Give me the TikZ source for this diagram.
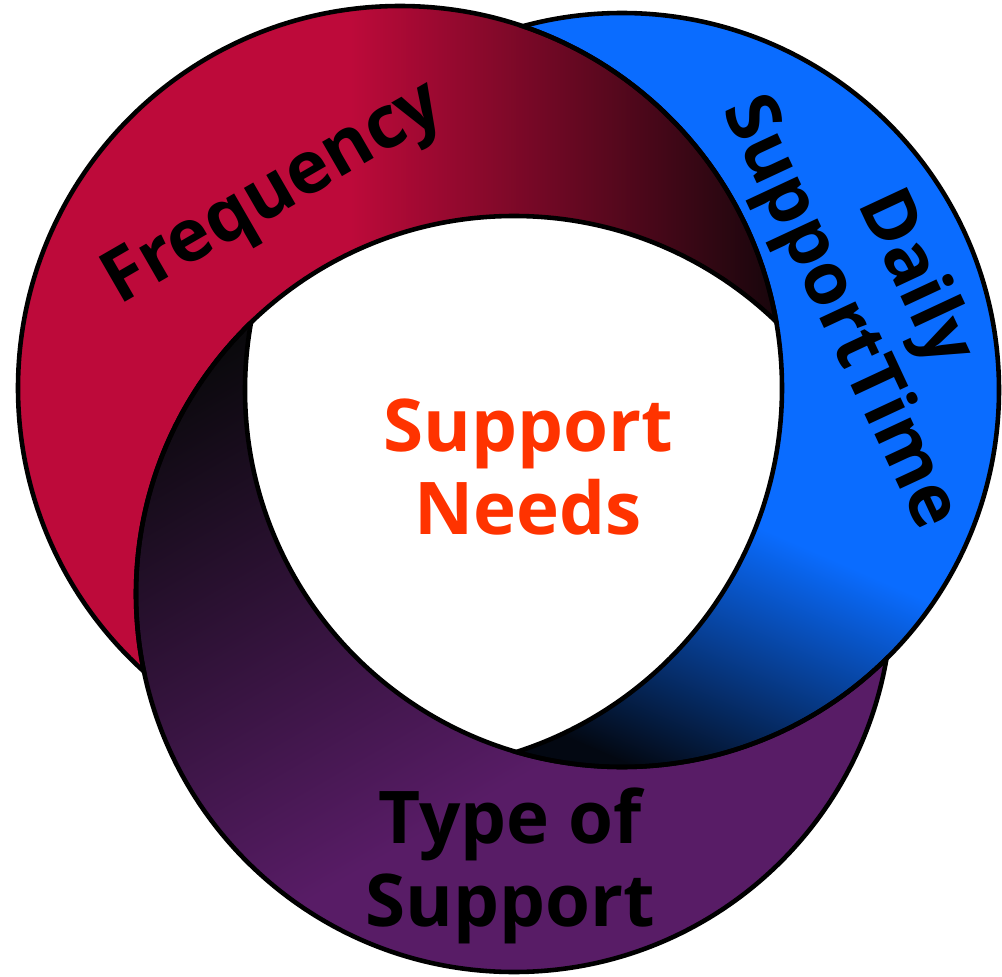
\documentclass[tikz,border=0pt]{standalone}
\usepackage{fontspec}
\setmainfont{Open Sans}
\definecolor{crim}{RGB}{189,10,58}
\definecolor{crimdark}{RGB}{18,6,10}
\definecolor{bluebright}{RGB}{10,108,255}
\definecolor{bluedark}{RGB}{3,8,18}
\definecolor{purp}{RGB}{88,28,102}
\definecolor{purpdark}{RGB}{10,9,12}
\definecolor{needs}{RGB}{255,51,0}
\tikzset{
  ringline/.style={draw=black, line width=2.6pt},
  ringlabel/.style={font=\bfseries\fontsize{41.4}{47}\selectfont, text=black, align=center, inner sep=0pt},
}
\begin{document}
\begin{tikzpicture}[x=0.02cm,y=-0.02cm]
\useasboundingbox (0,0) rectangle (1002,977);
\coordinate (R) at (400,388); \def\rR{382}
\coordinate (B) at (622,390); \def\rB{377}
\coordinate (P) at (514,594); \def\rP{378}

% red crescent: R minus P
\begin{scope}[even odd rule]
  \clip (R) circle[radius=\rR];
  \clip (P) circle[radius=\rP] (-300,-300) rectangle (1300,1300);
  \fill[crim] (-300,-300) rectangle (1300,1300);
  \shade[left color=crim, right color=crimdark] (350,-300) rectangle (790,1300);
  \fill[crimdark] (789,-300) rectangle (1300,1300);
\end{scope}

% blue crescent: B minus R
\begin{scope}[even odd rule]
  \clip (B) circle[radius=\rB];
  \clip (R) circle[radius=\rR] (-300,-300) rectangle (1300,1300);
  \begin{scope}[transform canvas={rotate around={-23.6:(800,545)}}]
    \fill[bluebright] (-800,-1200) rectangle (2200,2500);
    \shade[top color=bluebright, bottom color=bluedark] (-800,545) rectangle (2200,815);
    \fill[bluedark] (-800,814) rectangle (2200,2500);
  \end{scope}
\end{scope}

% purple crescent: P minus B
\begin{scope}[even odd rule]
  \clip (P) circle[radius=\rP];
  \clip (B) circle[radius=\rB] (-300,-300) rectangle (1300,1300);
  \begin{scope}[transform canvas={rotate around={30:(240,340)}}]
    \fill[purpdark] (-1200,-1200) rectangle (2500,2500);
    \shade[top color=purpdark, bottom color=purp] (-1200,340) rectangle (2500,860);
    \fill[purp] (-1200,859) rectangle (2500,2500);
  \end{scope}
\end{scope}

% outlines
\begin{scope}[even odd rule]
  \clip (P) circle[radius=\rP] (-300,-300) rectangle (1300,1300);
  \draw[ringline] (R) circle[radius=\rR];
\end{scope}
\begin{scope}
  \clip (B) circle[radius=\rB];
  \draw[ringline] (R) circle[radius=\rR];
\end{scope}
\begin{scope}[even odd rule]
  \clip (B) circle[radius=\rB] (-300,-300) rectangle (1300,1300);
  \draw[ringline] (P) circle[radius=\rP];
\end{scope}
\begin{scope}
  \clip (R) circle[radius=\rR];
  \draw[ringline] (P) circle[radius=\rP];
\end{scope}
\begin{scope}[even odd rule]
  \clip (R) circle[radius=\rR] (-300,-300) rectangle (1300,1300);
  \draw[ringline] (B) circle[radius=\rB];
\end{scope}
\begin{scope}
  \clip (P) circle[radius=\rP];
  \draw[ringline] (B) circle[radius=\rB];
\end{scope}

% labels
\node[ringlabel, rotate=30] (freq) at (275,196) {Frequency};
\node[ringlabel, rotate=-65] (daily) at (876,296) {Daily\\SupportTime};
\node[ringlabel] (type) at (510,866) {Type of\\Support};
\node[ringlabel, text=needs] (needs) at (528,467) {Support\\Needs};
\end{tikzpicture}
\end{document}
